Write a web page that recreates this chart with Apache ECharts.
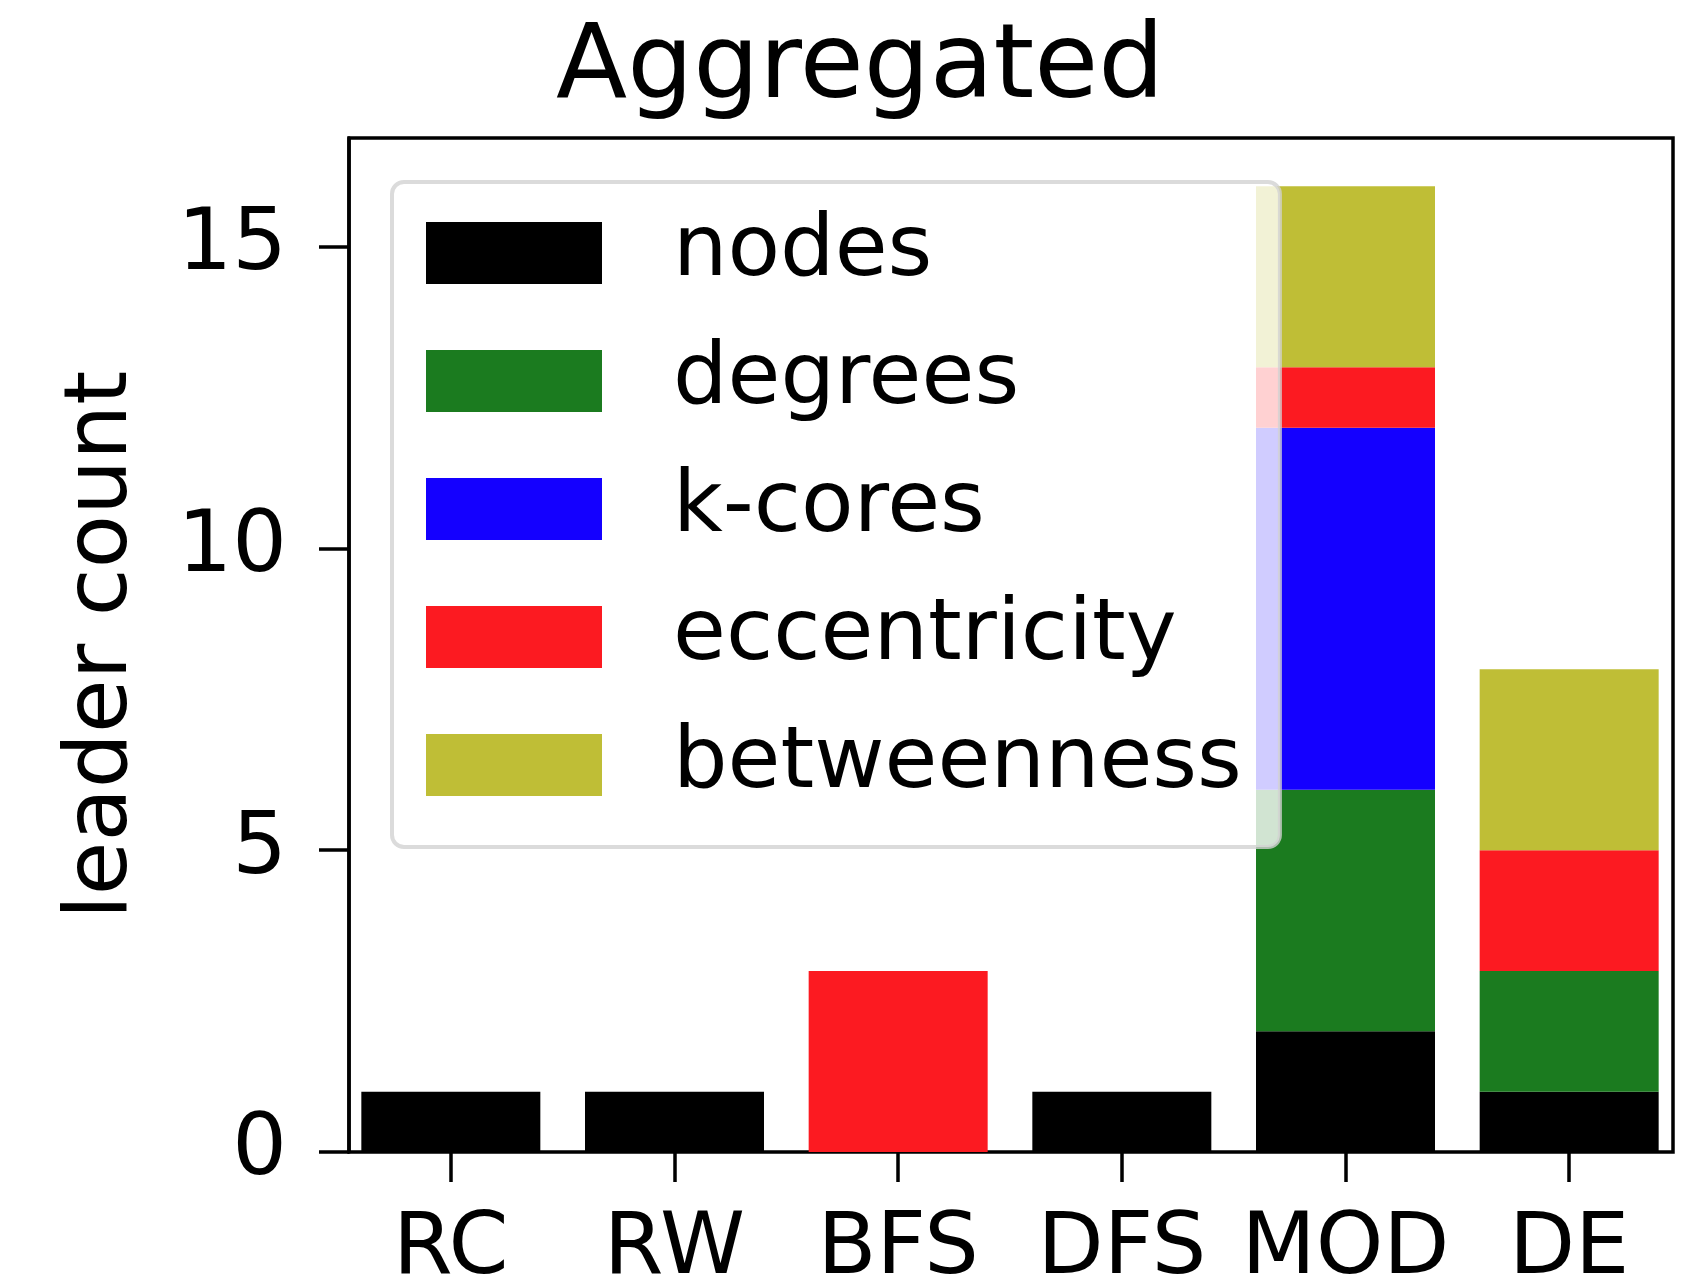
<!DOCTYPE html>
<html>
<head>
<meta charset="utf-8">
<script src="https://cdn.jsdelivr.net/npm/echarts@6/dist/echarts.min.js"></script>
<style>
html,body{margin:0;padding:0;background:#fff;}
#chart{width:1700px;height:1288px;}
</style>
</head>
<body>
<div id="chart"></div>
<script>
const categories = ['RC', 'RW', 'BFS', 'DFS', 'MOD', 'DE'];
const nodes = [1, 1, 0, 1, 2, 1];
const degrees = [0, 0, 0, 0, 4, 2];
const kcores = [0, 0, 0, 0, 6, 0];
const eccentricity = [0, 0, 3, 0, 1, 2];
const betweenness = [0, 0, 0, 0, 3, 3];
const yTicks = [0, 5, 10, 15];

const seriesDefs = [
  { name: 'nodes', data: nodes, color: '#000000' },
  { name: 'degrees', data: degrees, color: '#1b7b1f' },
  { name: 'k-cores', data: kcores, color: '#1400ff' },
  { name: 'eccentricity', data: eccentricity, color: '#fc1a21' },
  { name: 'betweenness', data: betweenness, color: '#bfbe36' }
];

const FONT = 'DejaVu Sans';
const chart = echarts.init(document.getElementById('chart'), null, { renderer: 'canvas' });

const option = {
  backgroundColor: '#ffffff',
  animation: false,
  title: {
    text: 'Aggregated',
    left: 551,
    top: 13,
    textStyle: { fontFamily: FONT, fontSize: 104, fontWeight: 'normal', color: '#000' }
  },
  legend: {
    orient: 'vertical',
    left: 392,
    top: 182,
    padding: [28, 38, 39, 34],
    itemWidth: 176,
    itemHeight: 62,
    itemGap: 42,
    backgroundColor: 'rgba(255,255,255,0.8)',
    borderColor: 'rgba(210,210,210,0.8)',
    borderWidth: 4,
    borderRadius: 12,
    icon: 'rect',
    textStyle: { fontFamily: FONT, fontSize: 86, color: '#000', padding: [0, 0, 0, 66] },
    data: seriesDefs.map(s => s.name)
  },
  grid: [
    { left: 349, top: 138, width: 1324, height: 1014, outerBoundsMode: 'none', containLabel: false,
      show: true, borderColor: '#000', borderWidth: 3.5, backgroundColor: 'transparent' },
    { left: 339, top: 138, width: 1342, height: 1014, outerBoundsMode: 'none', containLabel: false }
  ],
  xAxis: [
    { gridIndex: 0, type: 'category', data: categories, show: false },
    {
      gridIndex: 1, type: 'category', data: categories,
      axisLine: { show: false },
      axisTick: { show: true, interval: 0, alignWithLabel: true, length: 30, lineStyle: { color: '#000', width: 3.5 } },
      axisLabel: { interval: 0, hideOverlap: false, fontFamily: FONT, fontSize: 86, color: '#000', margin: 56 }
    }
  ],
  yAxis: [
    {
      gridIndex: 0, type: 'value', min: 0, max: 16.8, interval: 5, z: 3,
      axisLine: { show: true, lineStyle: { color: '#000', width: 3.5 } },
      axisTick: { show: true, length: 30, lineStyle: { color: '#000', width: 3.5 } },
      axisLabel: { fontFamily: FONT, fontSize: 86, color: '#000', margin: 62, showMaxLabel: false,
        formatter: v => (yTicks.indexOf(v) >= 0 ? String(v) : '') },
      splitLine: { show: false },
      name: 'leader count',
      nameLocation: 'middle',
      nameRotate: 90,
      nameGap: 202,
      nameTextStyle: { fontFamily: FONT, fontSize: 87, color: '#000' }
    },
    { gridIndex: 1, type: 'value', min: 0, max: 16.8, show: false }
  ],
  series: seriesDefs.map(s => ({
    name: s.name,
    type: 'bar',
    stack: 'total',
    xAxisIndex: 1,
    yAxisIndex: 1,
    barWidth: 179,
    itemStyle: { color: s.color },
    data: s.data
  }))
};
chart.setOption(option);
</script>
</body>
</html>
